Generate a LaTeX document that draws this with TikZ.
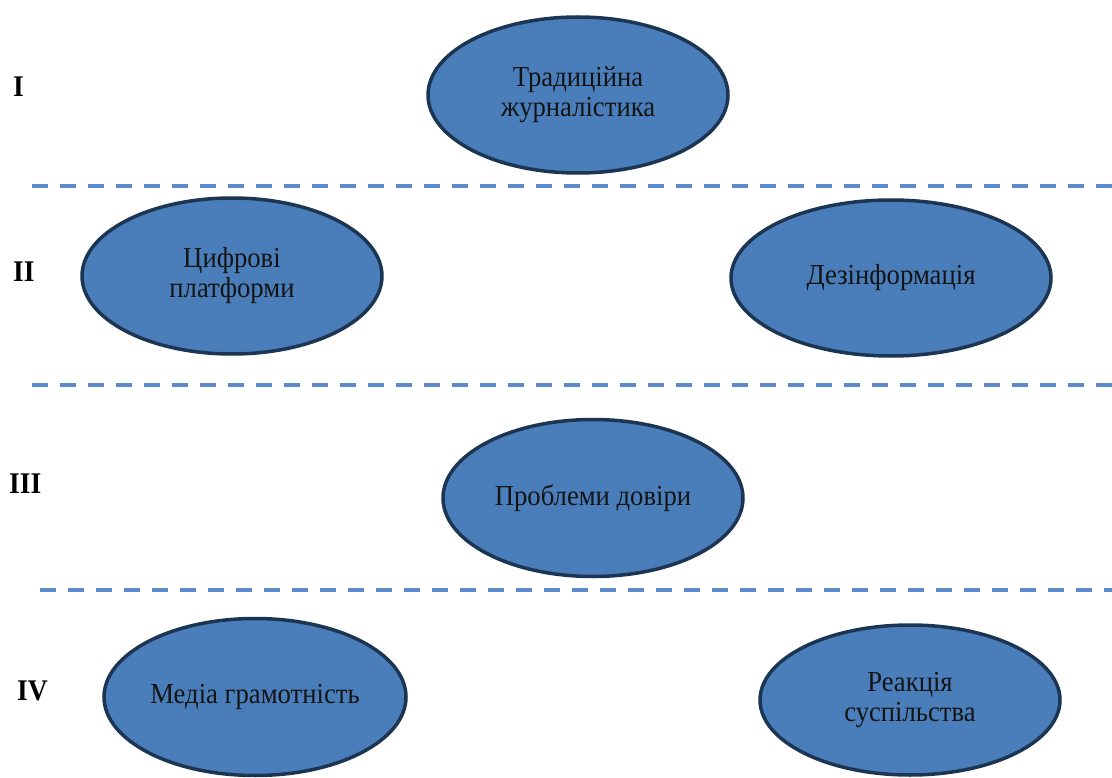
\documentclass[tikz,border=0pt]{standalone}
\usepackage{fontspec}
\setmainfont{Liberation Serif}[FakeStretch=0.92]
\usetikzlibrary{shapes.geometric}
\definecolor{ellfill}{HTML}{4A7EBB}
\definecolor{elldraw}{HTML}{1C3553}
\definecolor{dashcol}{HTML}{5B8BC9}
\tikzset{
  oval/.style={ellipse, draw=elldraw, fill=ellfill, line width=3.5pt, inner sep=0pt, align=center,
     font=\fontsize{29}{30}\selectfont, text=black!92},
  sep/.style={draw=dashcol, line width=4pt, dash pattern=on 16pt off 12pt},
  level/.style={font=\fontsize{30}{30}\selectfont\bfseries, inner sep=0pt, anchor=base west}
}
\begin{document}
\begin{tikzpicture}[x=1pt,y=-1pt]
\useasboundingbox (0,0) rectangle (1112,778);
% separators
\coordinate (s1a) at (32,186); \coordinate (s1b) at (1112,186);
\coordinate (s2a) at (32,385); \coordinate (s2b) at (1112,385);
\coordinate (s3a) at (40,590); \coordinate (s3b) at (1112,590);
\draw[sep] (s1a) -- (s1b);
\draw[sep] (s2a) -- (s2b);
\draw[sep] (s3a) -- (s3b);
% level labels
\node[level] (l1) at (13,97) {I};
\node[level] (l2) at (13,282) {II};
\node[level] (l3) at (9,493) {III};
\node[level] (l4) at (17,700) {IV};
% ellipses
\node[oval, minimum width=300pt, minimum height=156pt] (trad) at (578,95) {Традиційна\\журналістика};
\node[oval, minimum width=300pt, minimum height=156pt] (digi) at (232,276) {Цифрові\\платформи};
\node[oval, minimum width=320pt, minimum height=156pt] (dez) at (891,278) {Дезінформація};
\node[oval, minimum width=300pt, minimum height=157pt] (trust) at (593,498) {Проблеми довіри};
\node[oval, minimum width=302pt, minimum height=157pt] (media) at (255,697) {Медіа грамотність};
\node[oval, minimum width=300pt, minimum height=150pt] (react) at (910,700) {Реакція\\суспільства};
\end{tikzpicture}
\end{document}
